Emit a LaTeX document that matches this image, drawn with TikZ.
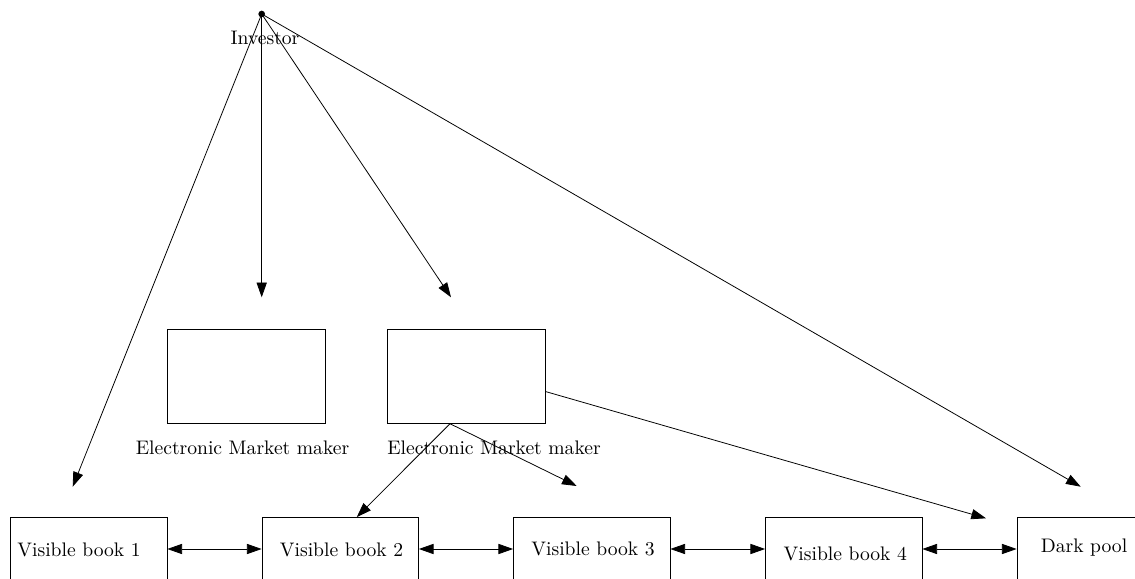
\documentclass[tikz,border=0pt]{standalone}
\usetikzlibrary{arrows.meta,calc}
\begin{document}
\begin{tikzpicture}[x=0.51pt,y=-0.51pt,
  box/.style={draw,minimum width=156.5*0.51pt,minimum height=63*0.51pt,inner sep=0pt},
  emm/.style={draw,minimum width=157.7*0.51pt,minimum height=94.3*0.51pt,inner sep=0pt},
  lbl/.style={inner sep=0pt,anchor=base},
  arr/.style={-{Triangle[length=7.5pt,width=5.2pt]}},
  biarr/.style={{Triangle[length=7.5pt,width=5.2pt]}-{Triangle[length=7.5pt,width=5.2pt]}}]
\useasboundingbox (0,0) rectangle (1135,579);
% investor
\node[circle,fill,inner sep=0pt,minimum size=3.4pt] (inv) at (261.7,14) {};
\node[lbl] (invl) at (265,45) {Investor};
% market makers
\node[emm] (emm1) at (246.2,376.2) {};
\node[emm] (emm2) at (466.5,376.2) {};
\node[lbl] (emm1l) at (242.5,455) {Electronic Market maker};
\node[lbl] (emm2l) at (494,455) {Electronic Market maker};
% books
\node[box] (vb1) at (88.75,549) {};
\node[box] (vb2) at (340.25,549) {};
\node[box] (vb3) at (591.75,549) {};
\node[box] (vb4) at (843.75,549) {};
\node[box] (dp) at (1095.25,549) {};
\node[lbl] (vb1l) at (79,557) {Visible book 1};
\node[lbl] (vb2l) at (341.5,557) {Visible book 2};
\node[lbl] (vb3l) at (593,555) {Visible book 3};
\node[lbl] (vb4l) at (845.3,560) {Visible book 4};
\node[lbl] (dpl) at (1084,552.7) {Dark pool};
% free ends
\coordinate (t1) at (72.7,486.7);
\coordinate (t2) at (261.7,297.3);
\coordinate (t3) at (451,297.3);
\coordinate (t4) at (1080.7,486.7);
\coordinate (t5) at (576.7,486);
\coordinate (t6) at (986,518.3);
\coordinate (s1) at ($(emm2.south)+(-16.5,0)$);
\coordinate (t7) at ($(vb2.north)+(16.5,0)$);
% arrows
\draw[arr] (inv.center) -- (t1);
\draw[arr] (inv.center) -- (t2);
\draw[arr] (inv.center) -- (t3);
\draw[arr] (inv.center) -- (t4);
\draw[arr] (s1) -- (t7);
\draw[arr] (s1) -- (t5);
\draw[arr] (emm2.-11.5) -- (t6);
\draw[biarr] (vb1) -- (vb2);
\draw[biarr] (vb2) -- (vb3);
\draw[biarr] (vb3) -- (vb4);
\draw[biarr] (vb4) -- (dp);
\end{tikzpicture}
\end{document}
